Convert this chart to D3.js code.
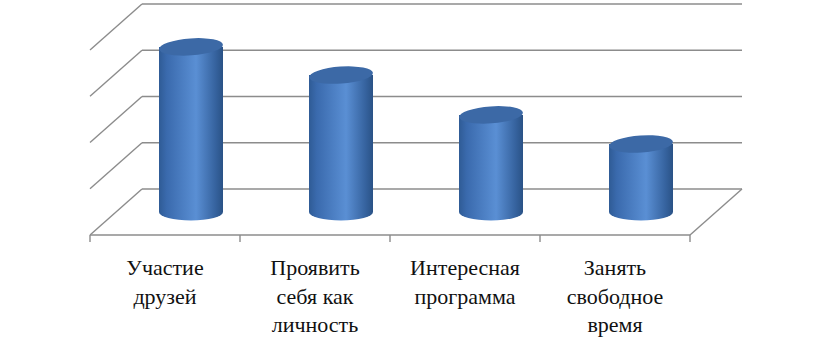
<!DOCTYPE html>
<meta charset="utf-8">
<style>
body { margin: 0; background: #fff; }
.grid { stroke: #8c8c8c; stroke-width: 1.4; fill: none; }
</style>
<svg width="833" height="362"></svg>
<script src="https://d3js.org/d3.v7.min.js"></script>
<script>

var categories = ["Участие друзей", "Проявить себя как личность", "Интересная программа", "Занять свободное время"];
var labelLines = [["Участие", "друзей"], ["Проявить", "себя как", "личность"], ["Интересная", "программа"], ["Занять", "свободное", "время"]];
var values = [35.7, 29.6, 21, 14.7];
var gridTicks = [0, 10, 20, 30, 40];

var svg = d3.select("svg");

// front plane x, depth offset to the back wall
var x = d3.scaleBand().domain(categories).range([90, 690]);
var y = d3.scaleLinear().domain([0, 40]).range([235, 50]);
var depthX = 52, depthY = -46;

var defs = svg.append("defs");
var grad = defs.append("linearGradient").attr("id", "cyl").attr("x1", 0).attr("x2", 1).attr("y1", 0).attr("y2", 0);
grad.append("stop").attr("offset", "0%").attr("stop-color", "#2f5b95");
grad.append("stop").attr("offset", "12%").attr("stop-color", "#3a6aad");
grad.append("stop").attr("offset", "58%").attr("stop-color", "#5a8fd4");
grad.append("stop").attr("offset", "88%").attr("stop-color", "#36639f");
grad.append("stop").attr("offset", "100%").attr("stop-color", "#2a5286");

var g = svg.append("g");

// back wall gridlines and side wall diagonals
gridTicks.forEach(function(t) {
  var yb = y(t) + depthY;
  g.append("line").attr("class", "grid")
    .attr("x1", 90 + depthX).attr("y1", yb)
    .attr("x2", 690 + depthX).attr("y2", yb);
  g.append("line").attr("class", "grid")
    .attr("x1", 90).attr("y1", y(t))
    .attr("x2", 90 + depthX).attr("y2", yb);
});

// floor right edge and front axis
g.append("line").attr("class", "grid")
  .attr("x1", 690).attr("y1", y(0))
  .attr("x2", 690 + depthX).attr("y2", y(0) + depthY);
g.append("line").attr("class", "grid")
  .attr("x1", 90).attr("y1", y(0)).attr("x2", 690).attr("y2", y(0));
var edges = [90].concat(categories.map(function(c) { return x(c) + x.bandwidth(); }));
g.selectAll(".tick").data(edges).enter().append("line")
  .attr("class", "grid")
  .attr("x1", function(d) { return d; }).attr("x2", function(d) { return d; })
  .attr("y1", y(0)).attr("y2", y(0) + 7);

// cylinders at half depth
var rx = 32, ry = 8.5;
var bars = g.selectAll(".bar").data(values).enter().append("g").attr("class", "bar");
bars.each(function(v, i) {
  var cx = x(categories[i]) + x.bandwidth() / 2 + depthX / 2;
  var base = y(0) + depthY / 2;
  var top = base - (y(0) - y(v));
  var b = d3.select(this);
  b.append("path")
    .attr("d", "M" + (cx - rx) + "," + top + " L" + (cx - rx) + "," + base +
      " A" + rx + "," + ry + " 0 0 0 " + (cx + rx) + "," + base +
      " L" + (cx + rx) + "," + top + " Z")
    .attr("fill", "url(#cyl)");
  b.append("ellipse")
    .attr("cx", cx).attr("cy", top)
    .attr("rx", rx).attr("ry", ry)
    .attr("fill", "#3c69a6")
    .attr("transform", "rotate(-4," + cx + "," + top + ")");
});

// category labels
var lbl = g.selectAll(".lbl").data(categories).enter().append("text")
  .attr("class", "lbl")
  .style("font-family", "'Liberation Serif', 'DejaVu Serif Condensed', 'DejaVu Serif', serif")
  .style("font-size", "22px")
  .attr("fill", "#111")
  .attr("text-anchor", "middle");
lbl.each(function(d, i) {
  var t = d3.select(this);
  labelLines[i].forEach(function(line, j) {
    t.append("tspan")
      .attr("x", x(d) + x.bandwidth() / 2)
      .attr("y", 275 + j * 28.5)
      .text(line);
  });
});

</script>
